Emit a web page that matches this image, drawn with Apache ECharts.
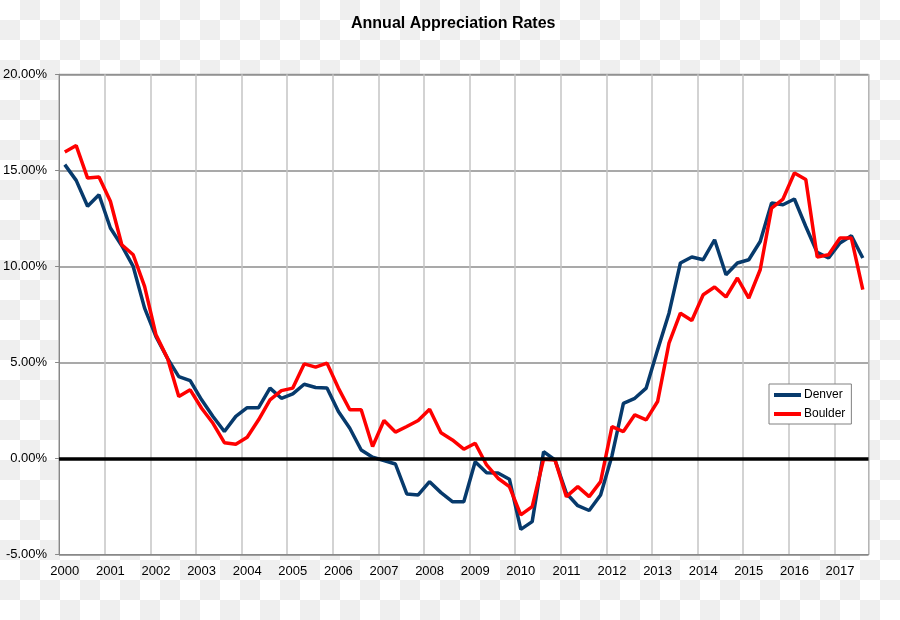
<!DOCTYPE html>
<html>
<head>
<meta charset="utf-8">
<script src="https://cdn.jsdelivr.net/npm/echarts@6/dist/echarts.min.js"></script>
<style>
html,body{margin:0;padding:0;}
body{
  width:900px;height:620px;
  background-color:#ffffff;
  background-image:
    linear-gradient(45deg,#efefef 25%,transparent 25%,transparent 75%,#efefef 75%),
    linear-gradient(45deg,#efefef 25%,transparent 25%,transparent 75%,#efefef 75%);
  background-size:40px 40px;
  background-position:0 0,20px 20px;
}
#c{width:900px;height:620px;}
</style>
</head>
<body>
<div id="c"></div>
<script>
const years = ['2000','2001','2002','2003','2004','2005','2006','2007','2008','2009','2010','2011','2012','2013','2014','2015','2016','2017'];
const quarters = ['Q1','Q2','Q3','Q4'];
const yTicks = [-5, 0, 5, 10, 15, 20];

const denver = [
  15.30, 14.48, 13.13, 13.73, 12.00, 11.08, 10.00, 7.83,
  6.35, 5.23, 4.27, 4.06, 3.06, 2.19, 1.41, 2.20,
  2.65, 2.65, 3.67, 3.14, 3.37, 3.87, 3.70, 3.67,
  2.45, 1.58, 0.45, 0.07, -0.10, -0.28, -1.84, -1.89,
  -1.20, -1.77, -2.24, -2.24, -0.16, -0.73, -0.75, -1.07,
  -3.68, -3.28, 0.36, -0.07, -1.80, -2.45, -2.70, -1.89,
  0.15, 2.88, 3.14, 3.67, 5.66, 7.57, 10.18, 10.49,
  10.35, 11.39, 9.57, 10.18, 10.35, 11.30, 13.30, 13.21,
  13.51, 12.08, 10.73, 10.44, 11.22, 11.60, 10.44
];
const boulder = [
  15.96, 16.29, 14.60, 14.66, 13.39, 11.13, 10.61, 8.96,
  6.44, 5.23, 3.23, 3.58, 2.62, 1.84, 0.83, 0.75,
  1.11, 2.02, 3.06, 3.54, 3.67, 4.93, 4.76, 4.97,
  3.67, 2.54, 2.54, 0.63, 1.98, 1.38, 1.67, 1.98,
  2.57, 1.35, 0.97, 0.49, 0.80, -0.33, -1.02, -1.46,
  -2.93, -2.50, -0.03, -0.07, -1.98, -1.46, -1.98, -1.20,
  1.67, 1.41, 2.28, 2.02, 2.97, 6.01, 7.57, 7.19,
  8.53, 8.93, 8.41, 9.40, 8.35, 9.83, 13.04, 13.51,
  14.86, 14.52, 10.49, 10.61, 11.48, 11.48, 8.79
];

const categories = [];
years.forEach(y => quarters.forEach(q => categories.push(y + ' ' + q)));
categories.length = denver.length;

const chart = echarts.init(document.getElementById('c'));
chart.setOption({
  backgroundColor: 'transparent',
  animation: false,
  title: {
    text: 'Annual Appreciation Rates',
    left: 346, top: 11,
    textStyle: { fontFamily: 'Liberation Sans, Arial, sans-serif', fontSize: 16, fontWeight: 'bold', color: '#000' }
  },
  legend: {
    data: ['Denver', 'Boulder'],
    orient: 'vertical',
    left: 769, top: 384,
    padding: [5, 6, 4, 5],
    itemGap: 7,
    itemWidth: 27, itemHeight: 4,
    icon: 'rect',
    backgroundColor: '#fff',
    borderColor: '#808080', borderWidth: 1,
    textStyle: { fontFamily: 'Liberation Sans, Arial, sans-serif', fontSize: 12, color: '#000', padding: [0,0,0,-2] }
  },
  grid: {
    left: 58.7, right: 31.5, top: 74.3, bottom: 65.3,
    show: true, backgroundColor: '#fff', borderColor: '#888', borderWidth: 1
  },
  xAxis: {
    type: 'category',
    data: categories,
    boundaryGap: true,
    axisLine: { onZero: false, lineStyle: { color: '#888', width: 1 } },
    axisTick: { show: false },
    axisLabel: {
      interval: 3, margin: 10,
      formatter: v => v.slice(0, 4),
      fontFamily: 'Liberation Sans, Arial, sans-serif', fontSize: 13, color: '#000'
    },
    splitLine: { show: true, interval: 3, lineStyle: { color: '#c4c4c4', width: 1.5 } }
  },
  yAxis: {
    type: 'value',
    min: yTicks[0], max: yTicks[yTicks.length - 1], interval: 5,
    axisLine: { show: true, lineStyle: { color: '#888', width: 1 } },
    axisTick: { show: true, length: 4, lineStyle: { color: '#888' } },
    axisLabel: {
      margin: 12,
      formatter: v => v.toFixed(2) + '%',
      fontFamily: 'Liberation Sans, Arial, sans-serif', fontSize: 13, color: '#000'
    },
    splitLine: { show: true, lineStyle: { color: '#8c8c8c', width: 1.5 } }
  },
  series: [
    {
      name: 'zero', type: 'line', data: [], z: 1, silent: true,
      markLine: {
        silent: true, symbol: ['none', 'none'],
        label: { show: false },
        lineStyle: { color: '#000', width: 3.5, type: 'solid' },
        data: [{ yAxis: 0 }]
      }
    },
    {
      name: 'Denver', type: 'line', data: denver, z: 3,
      symbol: 'none', color: '#073a6c',
      lineStyle: { width: 3.5, color: '#073a6c' }
    },
    {
      name: 'Boulder', type: 'line', data: boulder, z: 4,
      symbol: 'none', color: '#ff0000',
      lineStyle: { width: 3.5, color: '#ff0000' }
    }
  ]
});
</script>
</body>
</html>
